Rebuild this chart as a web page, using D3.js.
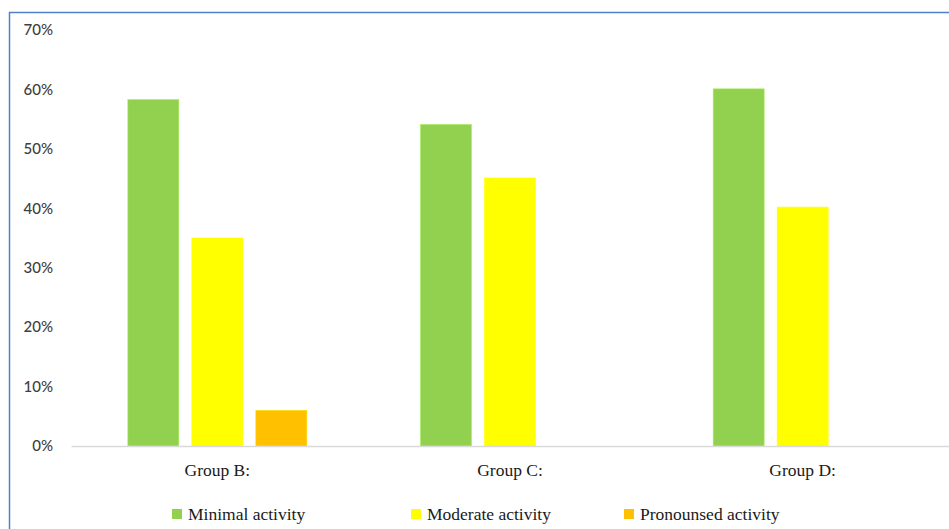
<!DOCTYPE html>
<html>
<head>
<meta charset="utf-8">
<script src="https://cdn.jsdelivr.net/npm/d3@7"></script>
<style>
  html, body { margin: 0; padding: 0; background: #fff; }
  svg { display: block; }
</style>
</head>
<body>
<svg id="chart" width="949" height="529"></svg>
<script>
// Share of patients by activity level in each group
const groups = ["Group B:", "Group C:", "Group D:"];
const seriesNames = ["Minimal activity", "Moderate activity", "Pronounsed activity"];
const minimalActivity = [58.3, 54.1, 60.1];
const moderateActivity = [35.0, 45.1, 40.2];
const pronouncedActivity = [6.0, null, null];
const yTicks = [0, 10, 20, 30, 40, 50, 60, 70];
const seriesColors = ["#92D050", "#FFFF00", "#FFC000"];

const seriesValues = [minimalActivity, moderateActivity, pronouncedActivity];

const svg = d3.select("#chart");
const W = 949, H = 529;

// frame around the chart area
svg.append("rect")
  .attr("x", 9.5).attr("y", 12.5)
  .attr("width", W + 20).attr("height", H + 20)
  .attr("fill", "none")
  .attr("stroke", "#4F81C9")
  .attr("stroke-width", 1.5);

const plotLeft = 71, plotRight = 949;
const y = d3.scaleLinear().domain([0, 70]).range([446, 30]);

const x0 = d3.scaleBand().domain(groups).range([plotLeft, plotRight]);
const x1 = d3.scaleBand().domain(seriesNames).range([-89.5, 89.5]).paddingInner(0.203);

// y axis labels (no axis line, no gridlines)
const yAxis = d3.axisLeft(y)
  .tickValues(yTicks)
  .tickFormat(d => d + "%")
  .tickSize(0)
  .tickPadding(0);
const gy = svg.append("g").attr("transform", "translate(53,0)").call(yAxis);
gy.select(".domain").remove();
gy.selectAll("text")
  .attr("font-family", "Lato, 'Open Sans', sans-serif")
  .attr("font-size", 15)
  .attr("font-weight", 500)
  .attr("fill", "#404040");

// bars
const gBars = svg.append("g");
groups.forEach((g, gi) => {
  seriesNames.forEach((s, si) => {
    const v = seriesValues[si][gi];
    if (v == null) return;
    gBars.append("rect")
      .attr("x", x0(g) + x0.bandwidth() / 2 + x1(s))
      .attr("y", y(v))
      .attr("width", x1.bandwidth())
      .attr("height", y(0) - y(v))
      .attr("fill", seriesColors[si])
      .attr("stroke", d3.color(seriesColors[si]).brighter(0.4))
      .attr("stroke-width", 0.6);
  });
});

// category axis baseline and labels
const xAxis = d3.axisBottom(x0).tickSize(0).tickPadding(0);
const gx = svg.append("g").attr("transform", `translate(0,${y(0)})`).call(xAxis);
gx.select(".domain").attr("stroke", "#D9D9D9").attr("stroke-width", 1.5);
gx.selectAll("text")
  .attr("y", 18)
  .attr("font-family", "'Liberation Serif', 'Times New Roman', serif")
  .attr("font-size", 17.5)
  .attr("fill", "#1a1a1a");

// legend
const legendX = [172, 411, 624];
const legend = svg.append("g");
seriesNames.forEach((s, i) => {
  legend.append("rect")
    .attr("x", legendX[i]).attr("y", 509)
    .attr("width", 10).attr("height", 10)
    .attr("fill", seriesColors[i]);
  legend.append("text")
    .attr("x", legendX[i] + 16).attr("y", 514)
    .attr("dy", "0.35em")
    .attr("font-family", "'Liberation Serif', 'Times New Roman', serif")
    .attr("font-size", 17.5)
    .attr("fill", "#1a1a1a")
    .text(s);
});
</script>
</body>
</html>
